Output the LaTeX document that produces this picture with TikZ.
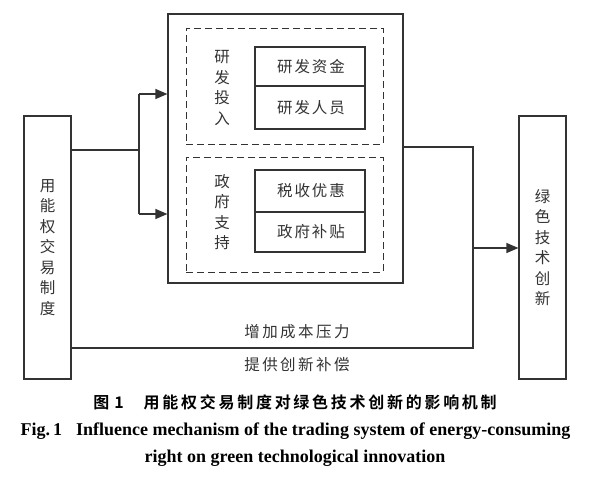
\documentclass[tikz,border=0pt]{standalone}
\usepackage{fontspec}
\setmainfont{Liberation Serif}
\newfontfamily\cjk[LetterSpace=12]{Noto Sans CJK SC}
\newfontfamily\cjkl[LetterSpace=16]{Noto Sans CJK SC}
\newfontfamily\cjkv{Noto Sans CJK SC}
\newfontfamily\cjkb[LetterSpace=17]{Noto Sans CJK SC Bold}
\usetikzlibrary{arrows.meta}
\begin{document}
\begin{tikzpicture}[x=1pt,y=-1pt,
  solidbox/.style={draw=black!80,line width=1.2pt,inner sep=0pt},
  dashbox/.style={draw=black!80,line width=1pt,dash pattern=on 7pt off 4pt,inner sep=0pt},
  cell/.style={draw=black!80,line width=1.2pt,inner sep=0pt,minimum width=110pt,font=\cjk\fontsize{15.5}{17}\selectfont,text=black!80},
  vlabel/.style={inner sep=0pt,align=center,font=\cjkv\fontsize{15.5}{20.5}\selectfont,text=black!80},
  conn/.style={draw=black!80,line width=1.2pt},
  arr/.style={conn,-{Triangle[length=12pt,width=10pt]}},
  lab/.style={inner sep=0pt,font=\cjkl\fontsize{15.5}{17}\selectfont,text=black!80}]
\useasboundingbox (0,0) rectangle (600,477);
\fill[white] (0,0) rectangle (600,477);
% boxes
\node[solidbox,minimum width=47pt,minimum height=263pt] (left) at (47.5,247.5) {};
\node[vlabel] (leftt) at (47.5,247.5) {用\\能\\权\\交\\易\\制\\度};
\node[solidbox,minimum width=47pt,minimum height=263pt] (right) at (542.5,247.5) {};
\node[vlabel] (rightt) at (542.5,247.5) {绿\\色\\技\\术\\创\\新};
\node[solidbox,minimum width=235pt,minimum height=269pt] (outer) at (285.5,148.5) {};
\node[dashbox,minimum width=197pt,minimum height=116pt] (d1) at (284.5,86) {};
\node[dashbox,minimum width=197pt,minimum height=115pt] (d2) at (284.5,214.5) {};
\node[vlabel] (d1t) at (222,88) {研\\发\\投\\入};
\node[vlabel] (d2t) at (222,212) {政\\府\\支\\持};
\node[cell,minimum height=39pt] (c1) at (310,66.5) {\hspace{2pt}研发资金};
\node[cell,minimum height=43pt] (c2) at (310,107.5) {\hspace{2pt}研发人员};
\node[cell,minimum height=42pt] (c3) at (310,191) {\hspace{2pt}税收优惠};
\node[cell,minimum height=40pt] (c4) at (310,232) {\hspace{2pt}政府补贴};
% connectors
\coordinate (j1) at (139,150);
\coordinate (a1) at (139,94);
\coordinate (a2) at (139,214);
\draw[conn] (j1 -| left.east) -- (j1);
\draw[conn] (a1) -- (a2);
\draw[arr] (a1) -- (a1 -| outer.west);
\draw[arr] (a2) -- (a2 -| outer.west);
\coordinate (r1) at (473,147);
\coordinate (b1) at (473,348);
\coordinate (r2) at (473,248);
\draw[conn] (r1 -| outer.east) -- (r1) -- (b1) -- (b1 -| left.east);
\draw[arr] (r2) -- (r2 -| right.west);
\node[lab] (l1) at (297,332) {增加成本压力};
\node[lab] (l2) at (297,365) {提供创新补偿};
% caption
\node[inner sep=0pt,font=\cjkb\fontsize{16}{17}\selectfont] (cap1) at (295,402) {图\hspace{5pt}1\hspace{20pt}用能权交易制度对绿色技术创新的影响机制};
\node[inner sep=0pt,font=\bfseries\fontsize{18}{20}\selectfont] (cap2) at (295.5,431) {Fig.\,1\hspace{14pt}Influence mechanism of the trading system of energy-consuming};
\node[inner sep=0pt,font=\bfseries\fontsize{18}{20}\selectfont] (cap3) at (295,458) {right on green technological innovation};
\end{tikzpicture}
\end{document}
